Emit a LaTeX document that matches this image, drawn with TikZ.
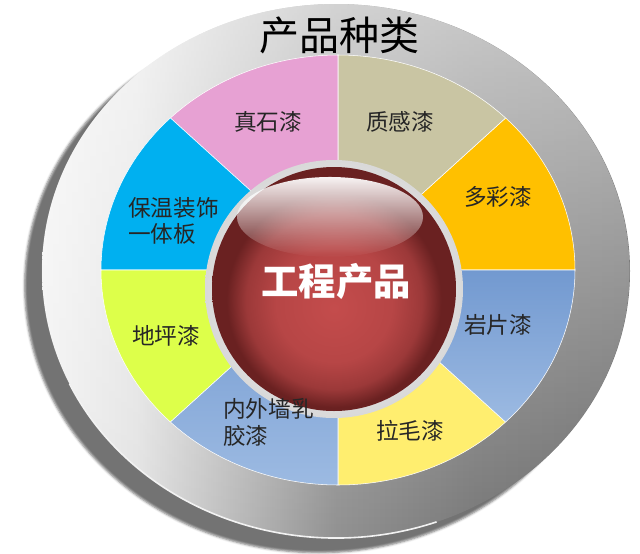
\documentclass[tikz,border=0pt]{standalone}
\usepackage{fontspec}
\newfontfamily\cjk{Noto Sans CJK SC}
\usetikzlibrary{shadows,shadows.blur,fadings}

\definecolor{pinkseg}{HTML}{E7A1D3}
\definecolor{khakiseg}{HTML}{C9C5A3}
\definecolor{orangeseg}{HTML}{FFC000}
\definecolor{bluetop}{HTML}{7299D0}
\definecolor{bluebot}{HTML}{9CBAE2}
\definecolor{yellowseg}{HTML}{FFEE6F}
\definecolor{limeseg}{HTML}{DDFF4A}
\definecolor{cyanseg}{HTML}{00B0F0}
\definecolor{ballmid}{HTML}{C44C4C}
\definecolor{balldark}{HTML}{6A2121}

\pgfdeclarehorizontalshading{ringshade}{100bp}{color(0bp)=(white!95!black);
  color(25bp)=(white!95!black); color(33bp)=(white!89!black);
  color(42bp)=(white!72!black); color(50bp)=(white!57!black);
  color(62bp)=(white!47!black); color(75bp)=(white!42!black);
  color(100bp)=(white!42!black)}
\pgfdeclareradialshading{ballshade}{\pgfpoint{0bp}{-4bp}}{color(0bp)=(ballmid);
  color(12bp)=(ballmid!85!balldark); color(18bp)=(ballmid!55!balldark);
  color(22bp)=(balldark); color(50bp)=(balldark)}

\tikzstyle{seglabel} = [font=\cjk\fontsize{17}{20}\selectfont, text=black!85,
    align=left, inner sep=0pt]
\tikzstyle{titlelabel} = [font=\cjk\fontsize{30}{32}\selectfont, text=black,
    inner sep=0pt]
\tikzstyle{centerlabel} = [font=\cjk\bfseries\fontsize{28}{30}\selectfont,
    text=white, inner sep=0pt]
\tikzstyle{blueseg} = [top color=bluetop, bottom color=bluebot]

\begin{document}
\begin{tikzpicture}[x=0.75pt,y=0.75pt]
\useasboundingbox (0,0) rectangle (640,-554);
\coordinate (ringc) at (336,-271);
\coordinate (wheel) at (338,-270);
\coordinate (ballc) at (334,-289);

% grey disc
\shade[blur shadow={shadow xshift=-13pt, shadow yshift=-11pt, shadow opacity=55},
  shading=ringshade] (ringc) ellipse [x radius=294, y radius=267];
\fill[white, path fading=south, fill opacity=0.6] (ringc)
  ellipse [x radius=294, y radius=267];
\draw[white!90!gray, line width=1.2pt] (ringc) ++(205:294 and 267)
  arc[start angle=205, end angle=290, x radius=294, y radius=267];

% coloured wheel
\foreach \a/\c in {0/orangeseg, 45/khakiseg, 90/pinkseg, 135/cyanseg,
                   180/limeseg, 270/yellowseg}
  \fill[\c, draw=white, line width=0.4pt] (wheel) -- ++(\a:237 and 215)
    arc[start angle=\a, delta angle=45, x radius=237, y radius=215] -- cycle;
\foreach \a in {225, 315}
  \shade[blueseg, draw=white, line width=0.4pt] (wheel) -- ++(\a:237 and 215)
    arc[start angle=\a, delta angle=45, x radius=237, y radius=215] -- cycle;

% ball
\shade[inner color=white, outer color=gray!30] (ballc) circle [radius=129];
\shade[shading=ballshade] (ballc) circle [radius=122];
\fill[white, path fading=south, fill opacity=0.95] (330,-217)
  ellipse [x radius=93, y radius=40];

\node[titlelabel] (title) at (339,-35) {产品种类};
\node[centerlabel] (center) at (336,-281) {工程产品};

\node[seglabel] (zhenshi) at (268,-122) {真石漆};
\node[seglabel] (zhigan) at (400,-122) {质感漆};
\node[seglabel] (duocai) at (498,-197) {多彩漆};
\node[seglabel] (yanpian) at (498,-325) {岩片漆};
\node[seglabel] (lamao) at (410,-431) {拉毛漆};
\node[seglabel] (diping) at (166,-336) {地坪漆};
\node[seglabel, anchor=north west] (baowen) at (128,-197) {保温装饰\\一体板};
\node[seglabel, anchor=north west] (neiwai) at (223,-398) {内外墙乳\\胶漆};
\end{tikzpicture}
\end{document}
